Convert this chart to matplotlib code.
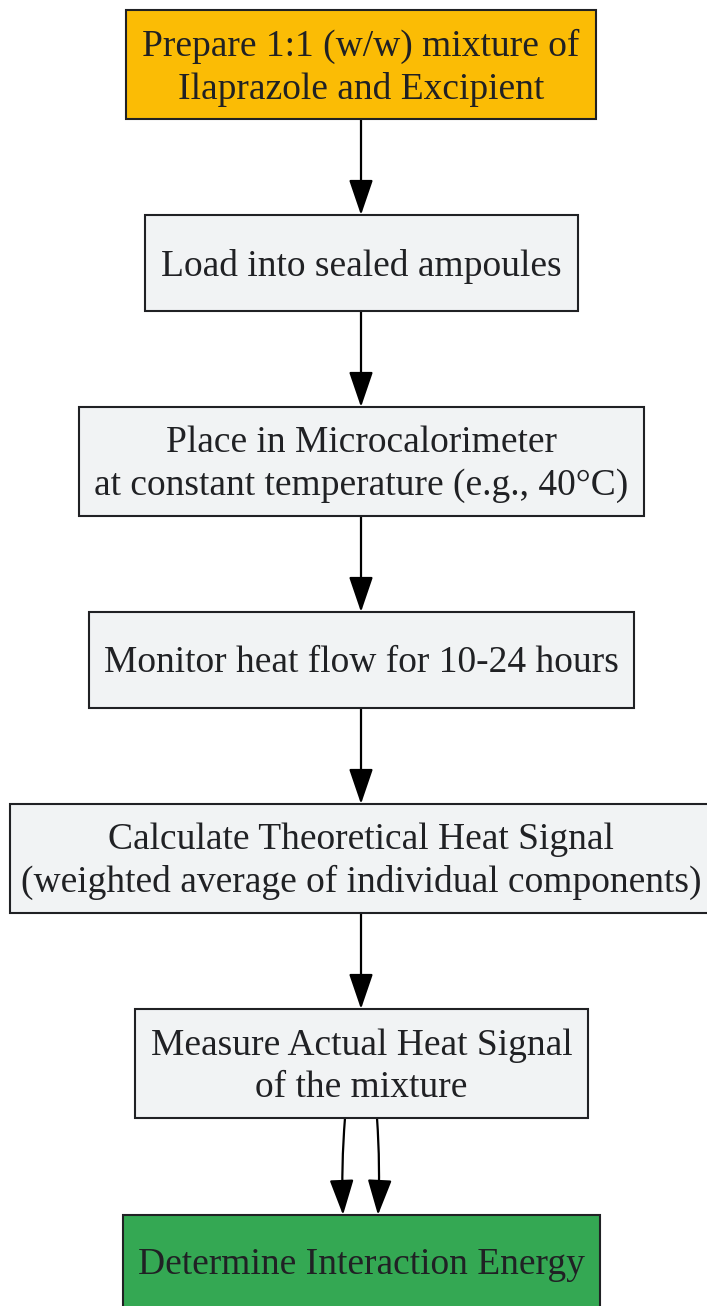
import matplotlib.pyplot as plt
from matplotlib.patches import Rectangle, FancyArrowPatch

# Flowchart content
steps = [
    'Prepare 1:1 (w/w) mixture of\nIlaprazole and Excipient',
    'Load into sealed ampoules',
    'Place in Microcalorimeter\nat constant temperature (e.g., 40°C)',
    'Monitor heat flow for 10-24 hours',
    'Calculate Theoretical Heat Signal\n(weighted average of individual components)',
    'Measure Actual Heat Signal\nof the mixture',
    'Determine Interaction Energy',
]
fills = ['#FBBC05', '#F1F3F4', '#F1F3F4', '#F1F3F4', '#F1F3F4', '#F1F3F4', '#34A853']
# edges between steps (source, target); the last pair is drawn twice
edges = [(0, 1), (1, 2), (2, 3), (3, 4), (4, 5), (5, 6), (5, 6)]

# layout in pixels: (left, top, right, bottom)
boxes = [
    (126, 10, 596, 119),
    (145, 215, 578, 311),
    (79, 407, 644, 516),
    (89, 612, 634, 708),
    (10, 804, 712, 913),
    (135, 1009, 588, 1118),
    (123, 1215, 600, 1330),
]

W, H = 707, 1306
fig = plt.figure(figsize=(W / 100, H / 100), dpi=100)
ax = fig.add_axes([0, 0, 1, 1])
ax.set_xlim(0, W)
ax.set_ylim(H, 0)
ax.axis('off')

edge_col = '#202124'
for (l, t, r, b), label, fc in zip(boxes, steps, fills):
    ax.add_patch(Rectangle((l, t), r - l, b - t, facecolor=fc,
                           edgecolor=edge_col, linewidth=1.5, zorder=2))
    cy = 1265 if b > H else (t + b) / 2 + 3
    ax.text((l + r) / 2, cy, label, ha='center', va='center',
            fontsize=27, family='Liberation Serif', color=edge_col,
            linespacing=1.3, zorder=3)

seen = {}
for s, e in edges:
    n = seen.get((s, e), 0)
    seen[(s, e)] = n + 1
    cnt = edges.count((s, e))
    y0 = boxes[s][3]
    y1 = boxes[e][1]
    if cnt == 1:
        x0 = x1 = 361
        rad = 0
    else:
        x0 = [345, 377][n]
        x1 = [343, 378][n]
        rad = [0.03, -0.03][n]
    ax.add_patch(FancyArrowPatch((x0, y0), (x1, y1),
                                 arrowstyle='-|>,head_length=2.2,head_width=0.75',
                                 mutation_scale=10,
                                 connectionstyle=f'arc3,rad={rad}',
                                 color='black', linewidth=1.6,
                                 shrinkA=0, shrinkB=0, zorder=1))

fig.savefig('out.png', dpi=100)
